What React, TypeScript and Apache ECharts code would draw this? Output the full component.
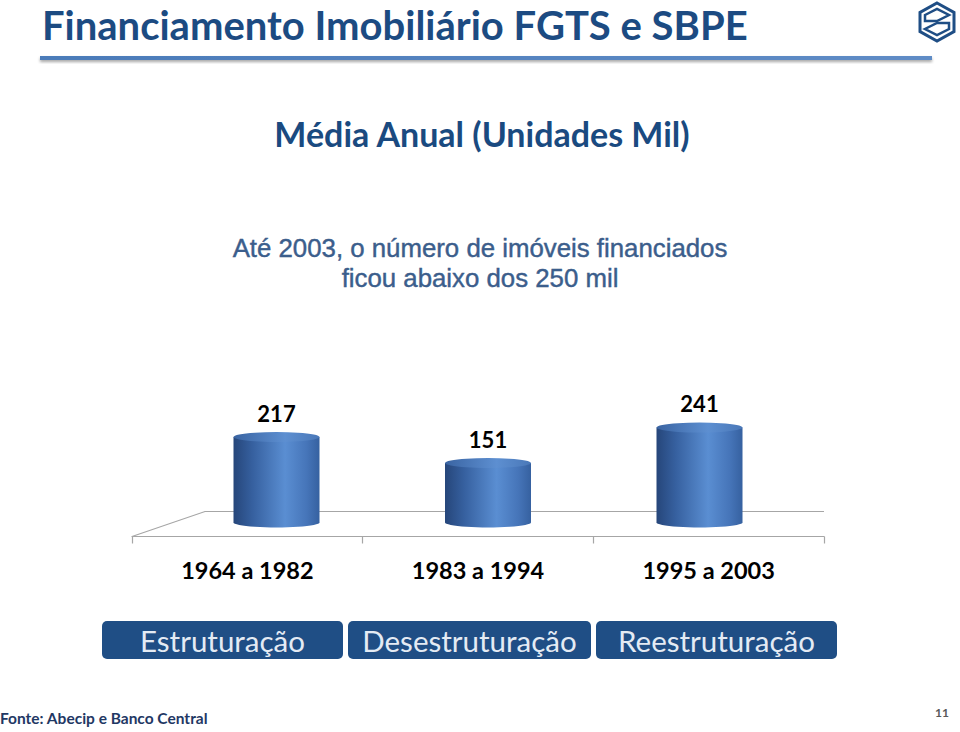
import React, { useEffect, useRef } from "react";
import * as echarts from "echarts";

const categories = ["1964 a 1982", "1983 a 1994", "1995 a 2003"];
const values = [217, 151, 241];
const buttonLabels = ["Estruturação", "Desestruturação", "Reestruturação"];
const titleText = "Financiamento Imobiliário FGTS e SBPE";
const subtitleText = "Média Anual (Unidades Mil)";
const noteLines = ["Até 2003, o número de imóveis financiados", "ficou abaixo dos 250 mil"];
const sourceText = "Fonte: Abecip e Banco Central";
const pageNumber = "11";

const CAL = "Lato, 'Open Sans', sans-serif";
const ARIAL = "'Liberation Sans', Arial, sans-serif";

const barGradient = () =>
  new echarts.graphic.LinearGradient(0, 0, 1, 0, [
    { offset: 0, color: "#26467a" },
    { offset: 0.22, color: "#36609f" },
    { offset: 0.6, color: "#5a8ed2" },
    { offset: 0.85, color: "#4675b9" },
    { offset: 1, color: "#3661a0" },
  ]);
const topGradient = () =>
  new echarts.graphic.LinearGradient(0, 0, 1, 0, [
    { offset: 0, color: "#3a64a2" },
    { offset: 0.6, color: "#5d8fd1" },
    { offset: 1, color: "#4a78b8" },
  ]);

export default function App() {
  const ref = useRef<HTMLDivElement>(null);
  useEffect(() => {
    if (!ref.current) return;
    const chart = echarts.init(ref.current, undefined, { renderer: "svg" });

    const buttons = [
      { x: 102, w: 241 },
      { x: 348, w: 243 },
      { x: 596, w: 241 },
    ];
    const graphic: any[] = [
      {
        type: "text",
        x: 42,
        y: 25,
        style: { text: titleText, font: `bold 40px ${CAL}`, fill: "#1c4b82", textAlign: "left", textVerticalAlign: "middle" },
      },
      {
        type: "rect",
        shape: { x: 40, y: 56, width: 892, height: 4 },
        style: {
          fill: new echarts.graphic.LinearGradient(0, 0, 1, 0, [
            { offset: 0, color: "#4b7bb9" },
            { offset: 1, color: "#5f8cc6" },
          ]),
          shadowBlur: 3,
          shadowOffsetY: 2,
          shadowColor: "rgba(0,0,0,0.35)",
        },
      },
      // logo
      {
        type: "polygon",
        shape: { points: [[937, 3], [954, 12.5], [954, 31.5], [937, 41], [920, 31.5], [920, 12.5]] },
        style: { fill: "none", stroke: "#1f4e85", lineWidth: 3 },
      },
      {
        type: "polygon",
        shape: { points: [[925, 15], [937, 9], [949, 15], [937, 21], [925, 21]] },
        style: { fill: "none", stroke: "#1f4e85", lineWidth: 2.5 },
      },
      {
        type: "polygon",
        shape: { points: [[949, 23], [949, 29], [937, 35], [925, 29], [937, 23]] },
        style: { fill: "none", stroke: "#1f4e85", lineWidth: 2.5 },
      },
      {
        type: "text",
        x: 482,
        y: 133,
        style: {
          text: subtitleText,
          font: `bold 34px ${CAL}`,
          fill: "#1a4a80",
          textAlign: "center",
          textVerticalAlign: "middle",
          shadowBlur: 3,
          shadowOffsetX: 1,
          shadowOffsetY: 2,
          shadowColor: "rgba(0,0,0,0.3)",
        },
      },
      ...noteLines.map((t, i) => ({
        type: "text",
        x: 480,
        y: 248 + i * 30,
        style: {
          text: t,
          font: `25.8px ${ARIAL}`,
          fill: "#3b5e8c",
          stroke: "#2f5080",
          lineWidth: 0.4,
          textAlign: "center",
          textVerticalAlign: "middle",
        },
      })),
      // floor
      {
        type: "polyline",
        z: 0,
        shape: { points: [[132, 536.5], [205, 511.5], [824, 511.5]] },
        style: { stroke: "#a6a6a6", lineWidth: 1.2, fill: "none" },
      },
      ...buttons.flatMap((b, i) => [
        {
          type: "rect",
          shape: { x: b.x, y: 621, width: b.w, height: 38, r: 5 },
          style: { fill: "#1f4e85" },
        },
        {
          type: "text",
          x: b.x + b.w / 2,
          y: 640,
          style: { text: buttonLabels[i], font: `29.5px ${CAL}`, fill: "#e4ebf4", textAlign: "center", textVerticalAlign: "middle" },
        },
      ]),
      {
        type: "text",
        x: 0,
        y: 718,
        style: { text: sourceText, font: `bold 15.5px ${CAL}`, fill: "#1f3864", textAlign: "left", textVerticalAlign: "middle" },
      },
      {
        type: "text",
        x: 942,
        y: 712,
        style: { text: pageNumber, font: `bold 12px ${CAL}`, fill: "#595959", textAlign: "center", textVerticalAlign: "middle" },
      },
    ];

    chart.setOption({
      animation: false,
      backgroundColor: "#ffffff",
      grid: [
        { left: 170.75, right: 154.75, top: 404.3, bottom: 209.5 },
        { left: 132, right: 136, top: 480, bottom: 195.5 },
      ],
      xAxis: [
        { type: "category", gridIndex: 0, data: categories, show: false },
        {
          type: "category",
          gridIndex: 1,
          data: categories,
          axisLine: { show: true, lineStyle: { color: "#a6a6a6", width: 1.2 } },
          axisTick: { show: true, length: 7, interval: 0, lineStyle: { color: "#a6a6a6", width: 1.2 } },
          axisLabel: { interval: 0, margin: 21, fontSize: 23.5, fontWeight: "bold", color: "#000", fontFamily: CAL },
        },
      ],
      yAxis: [
        { type: "value", gridIndex: 0, min: 0, max: 300, show: false },
        { type: "value", gridIndex: 1, show: false },
      ],
      graphic,
      series: [
        {
          type: "pictorialBar",
          xAxisIndex: 0,
          yAxisIndex: 0,
          data: values,
          symbol: "circle",
          symbolSize: [86, 10],
          symbolPosition: "start",
          symbolOffset: [0, "50%"],
          itemStyle: { color: barGradient() },
          z: 3,
        },
        {
          type: "bar",
          xAxisIndex: 0,
          yAxisIndex: 0,
          data: values,
          barWidth: 86,
          itemStyle: { color: barGradient() },
          label: {
            show: true,
            position: "top",
            distance: 13,
            fontSize: 22,
            fontWeight: "bold",
            color: "#000",
            fontFamily: CAL,
          },
          z: 4,
        },
        {
          type: "pictorialBar",
          xAxisIndex: 0,
          yAxisIndex: 0,
          data: values,
          symbol: "circle",
          symbolSize: [86, 10],
          symbolPosition: "end",
          symbolOffset: [0, "-50%"],
          itemStyle: { color: topGradient() },
          z: 5,
        },
      ],
    });
    return () => chart.dispose();
  }, []);
  return <div ref={ref} style={{ position: "fixed", left: 0, top: 0, width: 960, height: 732 }} />;
}
